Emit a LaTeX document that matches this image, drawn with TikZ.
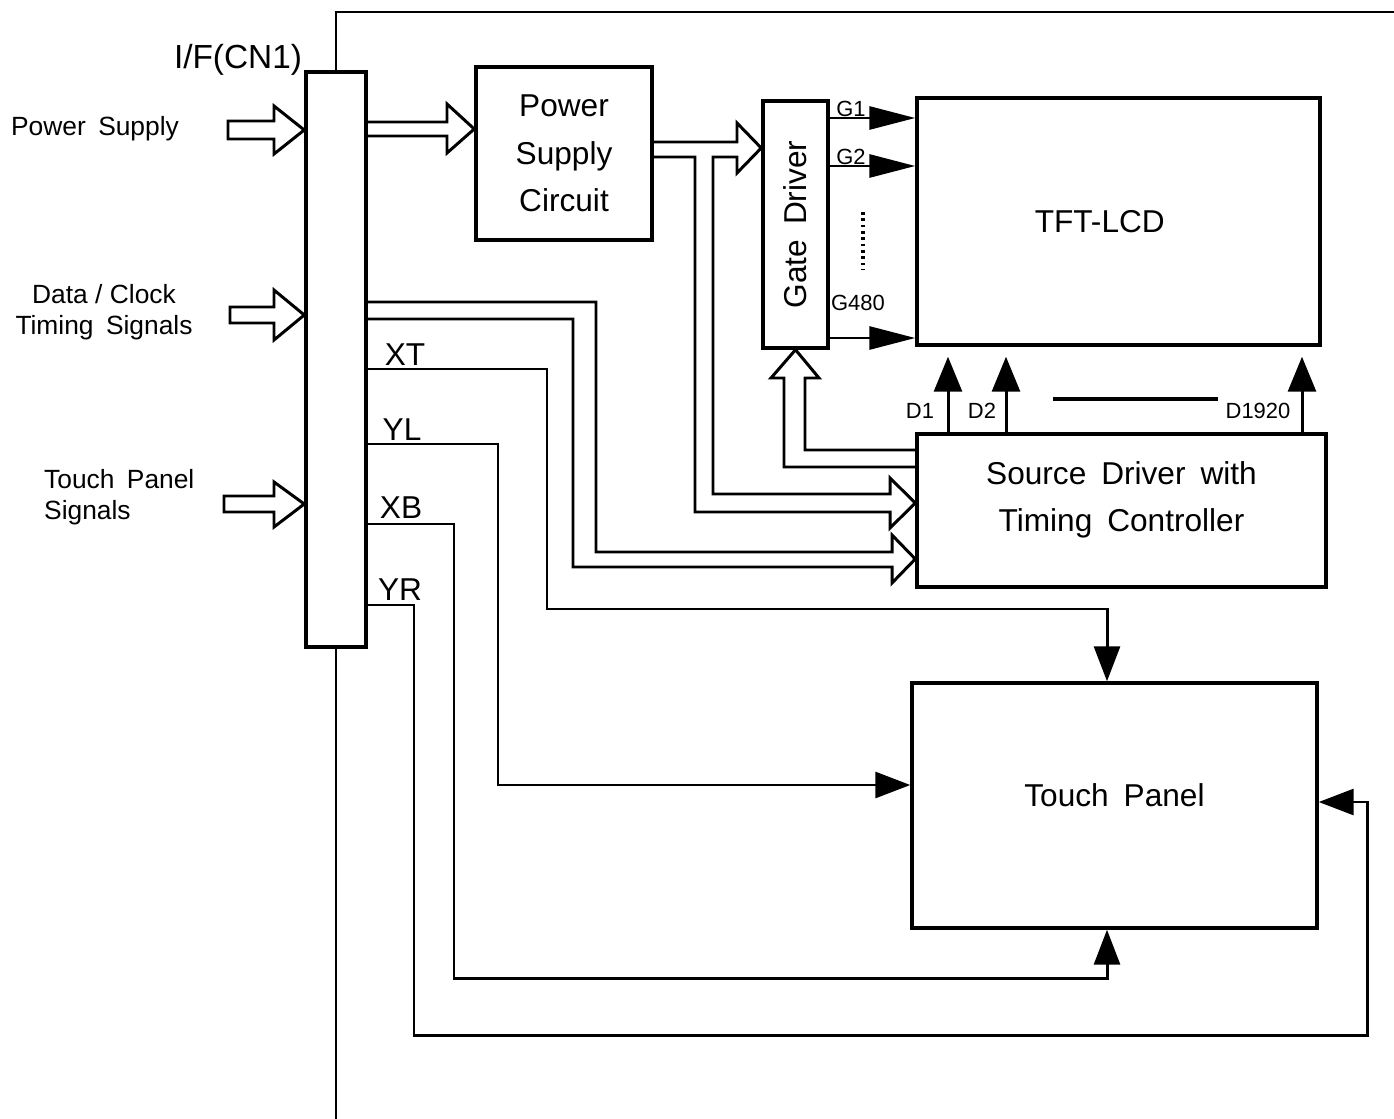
\documentclass[tikz,border=0pt]{standalone}
\usepackage{fontspec}
\setmainfont{Liberation Sans}[WordSpace=1.7]
\usetikzlibrary{positioning,arrows.meta}

\begin{document}
\begin{tikzpicture}[
  x=0.02cm, y=-0.02cm,
  box/.style={draw, line width=2pt, align=center, inner sep=0pt, font=\fontsize{18}{27}\selectfont},
  wire/.style={line width=1.7pt},
  busline/.style={line width=1.7pt, line join=miter},
  garrow/.style={wire, -{Triangle[length=0.92cm,width=0.46cm]}},
  darrow/.style={wire, -{Triangle[length=0.7cm,width=0.56cm]}, shorten >=0.2cm},
  tparrow/.style={wire, -{Triangle[length=0.7cm,width=0.52cm]}},
  sidelabel/.style={font=\fontsize{15}{18}\selectfont},
  pinlabel/.style={font=\fontsize{18}{22}\selectfont, inner sep=0pt},
  small/.style={font=\fontsize{12.5}{15}\selectfont, inner sep=0pt}
]
\useasboundingbox (0,0) rectangle (1394,1119);

% Blocks
\node[box, minimum width=1.2cm, minimum height=11.5cm] (conn) at (336,359.5) {};
\node[box, minimum width=3.52cm, minimum height=3.46cm] (psc) at (564,153.5) {Power\\Supply\\Circuit};
\node[box, minimum width=1.3cm, minimum height=4.94cm] (gd) at (795.5,224.5) {};
\node[rotate=90, font=\fontsize{18}{22}\selectfont] (gdtext) at (gd.center) {Gate Driver};
\node[box, minimum width=8.06cm, minimum height=4.94cm] (lcd) at (1118.5,221.5) {TFT-LCD\hspace{0.75cm}};
\node[box, minimum width=8.18cm, minimum height=3.06cm, text depth=0.55cm] (sdrv) at (1121.5,510.5) {Source Driver with\\Timing Controller};
\node[box, minimum width=8.1cm, minimum height=4.9cm, text depth=0.4cm] (tp) at (1114.5,805.5) {Touch Panel};

% Frame line
\draw[wire] (conn.north) -- (336,12) -- (1394,12);
\draw[wire] (conn.south) -- (336,1119);
\node[font=\fontsize{19}{22}\selectfont] (iflabel) at (238,60) {I/F(CN1)};

% Inputs
\node[sidelabel] (pslabel) at (95,129) {Power Supply};
\node[sidelabel, align=center] (dclabel) at (104,312) {Data\hspace{0.28em}/\hspace{0.28em}Clock\\Timing Signals};
\node[sidelabel, align=left, anchor=west] (tslabel) at (38,497) {Touch Panel\\Signals};
\draw[busline] (228,121) -- (274,121) -- (274,106) -- (conn.west|-0,130) -- (274,154) -- (274,139) -- (228,139) -- cycle;
\draw[busline] (230,307) -- (274,307) -- (274,290) -- (conn.west|-0,315) -- (274,340) -- (274,323) -- (230,323) -- cycle;
\draw[busline] (224,496) -- (274,496) -- (274,482) -- (conn.west|-0,504) -- (274,527) -- (274,512) -- (224,512) -- cycle;

% Power path
\draw[busline] (conn.east|-0,122) -- (447,122) -- (447,104) -- (psc.west|-0,129) -- (447,153) -- (447,136) -- (conn.east|-0,136);
\draw[busline] (psc.east|-0,142) -- (737,142) -- (737,123) -- (gd.west|-0,148) -- (737,173) -- (737,157) -- (713,157) -- (713,494) -- (890,494) -- (890,478) -- (sdrv.west|-0,503) -- (890,528) -- (890,512) -- (695,512) -- (695,157) -- (psc.east|-0,157);

% Data / clock path
\draw[busline] (conn.east|-0,302) -- (596,302) -- (596,552) -- (892,552) -- (892,535) -- (sdrv.west|-0,559) -- (892,583) -- (892,567) -- (573,567) -- (573,319) -- (conn.east|-0,319);

% Source driver to gate driver
\draw[busline] (sdrv.west|-0,467) -- (784,467) -- (784,378) -- (771,378) -- (gd.south) -- (819,378) -- (805,378) -- (805,450) -- (sdrv.west|-0,450);

% Gate lines
\draw[garrow] (gd.east|-0,118) -- (lcd.west|-0,118);
\draw[garrow] (gd.east|-0,166) -- (lcd.west|-0,166);
\draw[garrow] (gd.east|-0,338) -- (lcd.west|-0,338);
\node[small] (g1) at (851,109) {G1};
\node[small] (g2) at (851,157) {G2};
\node[small] (g480) at (858,303) {G480};
\draw[line width=2.2pt, dash pattern=on 1.6pt off 2pt] (863,212) -- (863,270);

% Data lines
\draw[darrow] (sdrv.north-|948,0) -- (lcd.south-|948,0);
\draw[darrow] (sdrv.north-|1006,0) -- (lcd.south-|1006,0);
\draw[darrow] (sdrv.north-|1302,0) -- (lcd.south-|1302,0);
\node[small] (d1) at (920,411) {D1};
\node[small] (d2) at (982,411) {D2};
\node[small] (d1920) at (1258,411) {D1920};
\draw[line width=2.5pt] (1053,399) -- (1218,399);

% Touch panel lines
\node[pinlabel] (xt) at (405,355) {XT};
\node[pinlabel] (yl) at (402,430) {YL};
\node[pinlabel] (xb) at (401,508) {XB};
\node[pinlabel] (yr) at (400,590) {YR};
\draw[tparrow] (conn.east|-0,369) -- (547,369) -- (547,609) -- (1107,609) -- (tp.north-|1107,0);
\draw[tparrow] (conn.east|-0,444) -- (498,444) -- (498,785) -- (tp.west|-0,785);
\draw[tparrow] (conn.east|-0,524) -- (454,524) -- (454,978) -- (1107,978) -- (tp.south-|1107,0);
\draw[tparrow] (conn.east|-0,605) -- (414,605) -- (414,1035) -- (1367,1035) -- (1367,802) -- (tp.east|-0,802);

\end{tikzpicture}
\end{document}
